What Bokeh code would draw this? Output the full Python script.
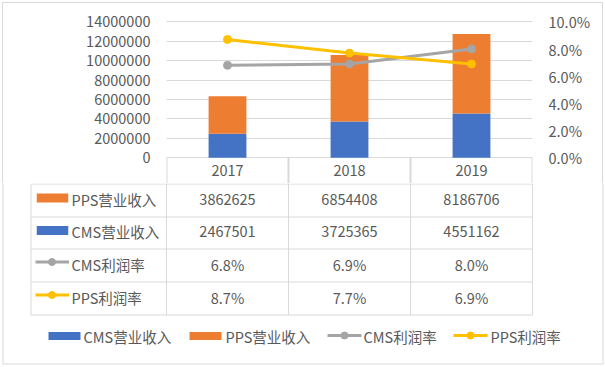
from bokeh.plotting import figure
from bokeh.models import (Range1d, FactorRange, LinearAxis, FixedTicker, NumeralTickFormatter,
                          ColumnDataSource)
from bokeh.layouts import column
from bokeh.embed import file_html
from bokeh.resources import INLINE
from bokeh.core.properties import value

# ---------------- data ----------------
years = ["2017", "2018", "2019"]
cms_revenue = [2467501, 3725365, 4551162]
pps_revenue = [3862625, 6854408, 8186706]
cms_margin = [0.068, 0.069, 0.080]
pps_margin = [0.087, 0.077, 0.069]
left_ticks = [0, 2000000, 4000000, 6000000, 8000000, 10000000, 12000000, 14000000]
right_ticks = [0.0, 0.02, 0.04, 0.06, 0.08, 0.10]
name_cms_rev = "CMS营业收入"
name_pps_rev = "PPS营业收入"
name_cms_m = "CMS利润率"
name_pps_m = "PPS利润率"

# ---------------- style / layout ----------------
FONT = "Noto Sans CJK SC"
FS = "14.5px"
TXT = "#595959"
GRID = "#D9D9D9"
BORDER = "#D9D9D9"
BLUE, ORANGE, GRAY, GOLD = "#4472C4", "#ED7D31", "#A5A5A5", "#FFC000"

W = 605
FL, FR = 166, 532          # frame left / right (page px)
FT, FB = 20, 183           # frame top / bottom of chart figure
Y0_PX, YTOP_PX = 157.3, 21.3
COLW = (FR - FL) / 3
LMAX = left_ticks[-1]
RMAX = right_ticks[-1]
ppu_l = (Y0_PX - YTOP_PX) / LMAX
ppu_r = (Y0_PX - YTOP_PX) / RMAX
BL, BR, BB = 2.5, 602.5, 363.5   # outer chart-area border (lower figure)

g = f"linear-gradient({BORDER},{BORDER})"
upper_border_css = (f"{g} 2px 2px / 601px 1px no-repeat, "
                    f"{g} 2px 2px / 1px 100% no-repeat, "
                    f"{g} 602px 2px / 1px 100% no-repeat, white")

src = ColumnDataSource(dict(year=years, cms=cms_revenue, pps=pps_revenue,
                            cms_m=cms_margin, pps_m=pps_margin))

p = figure(width=W, height=FB, output_backend="svg", toolbar_location=None,
           x_range=FactorRange(*years, range_padding=0),
           y_range=Range1d(-(FB - Y0_PX) / ppu_l, LMAX + (YTOP_PX - FT) / ppu_l),
           x_axis_location=None, frame_align=False,
           min_border_left=FL, min_border_right=W - FR, min_border_top=FT, min_border_bottom=0,
           styles={"background": upper_border_css})
p.border_fill_color = None
p.outline_line_color = None
p.xgrid.visible = False
p.extra_y_ranges = {"pct": Range1d(-(FB - Y0_PX) / ppu_r, RMAX + (YTOP_PX - FT) / ppu_r)}

ya = p.yaxis[0]
ya.ticker = FixedTicker(ticks=left_ticks)
ya.formatter = NumeralTickFormatter(format="0")
p.ygrid.ticker = FixedTicker(ticks=left_ticks)
p.ygrid.grid_line_color = GRID
ra = LinearAxis(y_range_name="pct", ticker=FixedTicker(ticks=right_ticks),
                formatter=NumeralTickFormatter(format="0.0%"))
p.add_layout(ra, "right")
for ax in (ya, ra):
    ax.axis_line_color = None
    ax.major_tick_line_color = None
    ax.minor_tick_line_color = None
    ax.major_tick_out = 0
    ax.major_tick_in = 0
    ax.major_label_standoff = 16
    ax.major_label_text_font = FONT
    ax.major_label_text_font_size = FS
    ax.major_label_text_color = TXT

p.vbar_stack(["cms", "pps"], x="year", width=0.31, color=[BLUE, ORANGE],
             line_color=None, source=src)
p.line("year", "cms_m", y_range_name="pct", line_width=3, color=GRAY, source=src)
p.scatter("year", "cms_m", y_range_name="pct", size=8, color=GRAY, source=src)
p.line("year", "pps_m", y_range_name="pct", line_width=3, color=GOLD, source=src)
p.scatter("year", "pps_m", y_range_name="pct", size=8, color=GOLD, source=src)

# header row of the data table (category labels)
bounds = list(range(len(years) + 1))
y_bot = -(FB - Y0_PX) / ppu_l
p.segment(x0=bounds, y0=[0] * len(bounds), x1=bounds, y1=[y_bot] * len(bounds),
          line_color=GRID, line_width=2)
p.text(x=years, y=[-(169.5 - Y0_PX) / ppu_l] * len(years), text=years,
       text_font=value(FONT), text_font_size=FS, text_color=TXT,
       text_align="center", text_baseline="middle")

# ---------------- data table + legend ----------------
H2 = 367 - FB
t = figure(width=W, height=H2, output_backend="svg", toolbar_location=None,
           x_range=Range1d(0, W), y_range=Range1d(367, FB),
           x_axis_location=None, y_axis_location=None, frame_align=False,
           min_border_left=0, min_border_right=0, min_border_top=0, min_border_bottom=0)
t.outline_line_color = None
t.xgrid.visible = False
t.ygrid.visible = False

# outer border (lower part)
t.segment(x0=[BL, BR, BL], y0=[FB - 5, FB - 5, BB], x1=[BL, BR, BR], y1=[BB, BB, BB],
          line_color=BORDER, line_width=1)

TL = 30.5
row_edges = [183.5, 216.5, 248.5, 281.5, 314.5]
col_edges = [TL] + [FL + i * COLW for i in range(4)]
t.segment(x0=[TL] * 5, y0=row_edges, x1=[FR] * 5, y1=row_edges, line_color=GRID, line_width=1)
t.segment(x0=col_edges, y0=[row_edges[0]] * 5, x1=col_edges, y1=[row_edges[-1]] * 5,
          line_color=GRID, line_width=1)

rows = [
    (name_pps_rev, [str(v) for v in pps_revenue], "bar", ORANGE),
    (name_cms_rev, [str(v) for v in cms_revenue], "bar", BLUE),
    (name_cms_m, [f"{v * 100:.1f}%" for v in cms_margin], "line", GRAY),
    (name_pps_m, [f"{v * 100:.1f}%" for v in pps_margin], "line", GOLD),
]
col_centers = [FL + (i + 0.5) * COLW for i in range(3)]
for r, (name, vals, kind, colr) in enumerate(rows):
    yc = (row_edges[r] + row_edges[r + 1]) / 2 - 1.5
    if kind == "bar":
        t.rect(x=[52], y=[yc - 1], width=31.5, height=9, color=colr, line_color=None)
    else:
        t.segment(x0=[35], y0=[yc - 2], x1=[68.5], y1=[yc - 2], line_color=colr, line_width=3)
        t.scatter(x=[51.5], y=[yc - 2], size=7, color=colr)
    t.text(x=[71], y=[yc], text=[name], text_font=value(FONT), text_font_size=FS,
           text_color=TXT, text_align="left", text_baseline="middle")
    t.text(x=col_centers, y=[yc] * 3, text=vals, text_font=value(FONT), text_font_size=FS,
           text_color=TXT, text_align="center", text_baseline="middle")

# bottom legend
LY = 336
legend_items = [(name_cms_rev, "bar", BLUE, 48, 83), (name_pps_rev, "bar", ORANGE, 189, 225),
                (name_cms_m, "line", GRAY, 327, 363), (name_pps_m, "line", GOLD, 453, 490)]
for name, kind, colr, gx, tx in legend_items:
    if kind == "bar":
        t.rect(x=[gx + 16], y=[LY - 0.5], width=32, height=8, color=colr, line_color=None)
    else:
        t.segment(x0=[gx], y0=[LY - 1], x1=[gx + 34], y1=[LY - 1], line_color=colr, line_width=3)
        t.scatter(x=[gx + 17], y=[LY - 1], size=7, color=colr)
    t.text(x=[tx], y=[LY], text=[name], text_font=value(FONT), text_font_size=FS,
           text_color=TXT, text_align="left", text_baseline="middle")

layout = column(p, t, spacing=0, styles={"background": "white"})

open("out.html", "w").write(file_html(layout, INLINE))
